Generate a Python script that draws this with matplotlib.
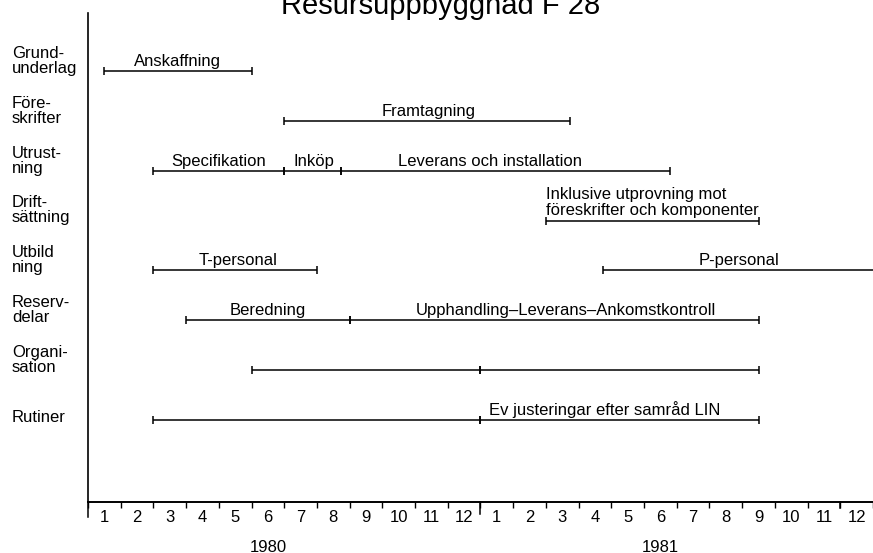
import matplotlib.pyplot as plt
from matplotlib.transforms import blended_transform_factory

plt.rcParams["font.family"] = ["Liberation Sans", "DejaVu Sans"]

TITLE = "Resursuppbyggnad F 28"

row_labels = [
    "Grund-\nunderlag",
    "Före-\nskrifter",
    "Utrust-\nning",
    "Drift-\nsättning",
    "Utbild\nning",
    "Reserv-\ndelar",
    "Organi-\nsation",
    "Rutiner",
]

# one entry per bar segment; months counted from start of jan 1980
seg_row = [0, 1, 2, 2, 2, 3, 4, 4, 5, 5, 6, 6, 7, 7]
seg_start = [0.5, 6.0, 2.0, 6.0, 7.75, 14.0, 2.0, 15.75, 3.0, 8.0, 5.0, 12.0, 2.0, 12.0]
seg_end = [5.0, 14.75, 6.0, 7.75, 17.8, 20.5, 7.0, 24.5, 8.0, 20.5, 12.0, 20.5, 12.0, 20.5]
seg_text = [
    "Anskaffning",
    "Framtagning",
    "Specifikation",
    "Inköp",
    "Leverans och installation",
    "Inklusive utprovning mot\nföreskrifter och komponenter",
    "T-personal",
    "P-personal",
    "Beredning",
    "Upphandling\u2013Leverans\u2013Ankomstkontroll",
    "",
    "",
    "",
    "Ev justeringar efter samråd LIN",
]
text_x = [2.75, 10.4, 4.0, 6.9, 12.3, 14.0, 4.6, 19.9, 5.5, 14.6, 0, 0, 0, 15.8]
text_ha = ["center"] * 5 + ["left"] + ["center"] * 8

month_labels = [str(m) for m in range(1, 13)] * 2
years = ["1980", "1981"]
year_ticks = [0, 12, 23]
year_tick_len = [15, 12, 6]

W, H = 873, 553
MONTH_PX = 32.8

fig = plt.figure(figsize=(W / 100, H / 100), dpi=100)
ax = fig.add_axes([88 / W, 1 - 502 / H, (W - 88) / W, (502 - 13) / H])
ax.set_xlim(0, (W - 88) / MONTH_PX)
ax.set_ylim(8.644, -1.163)

for r, s, e, t, tx, ha in zip(seg_row, seg_start, seg_end, seg_text, text_x, text_ha):
    ax.plot([s, e], [r, r], color="black", lw=1.1, solid_capstyle="butt")
    ax.plot([s, e], [r, r], linestyle="none", marker="|", ms=5.5, mew=1.1, color="black")
    if t:
        ax.annotate(t, (tx, r), xytext=(0, 1.5), textcoords="offset points",
                    ha=ha, va="bottom", fontsize=12, linespacing=1.1)

# row names at the far left
trans = blended_transform_factory(fig.transFigure, ax.transData)
for i, lab in enumerate(row_labels):
    ax.annotate(lab, (12 / W, i), xycoords=trans, xytext=(0, -3.5),
                textcoords="offset points", ha="left", va="bottom",
                fontsize=12, linespacing=1.0)

# axes styling
for side in ["top", "right"]:
    ax.spines[side].set_visible(False)
ax.spines["left"].set_linewidth(1.2)
ax.spines["bottom"].set_linewidth(1.4)
ax.set_yticks([])

ax.set_xticks(range(0, 25))
ax.set_xticklabels([])
ax.tick_params(axis="x", which="major", length=4, width=1, direction="out")
ax.set_xticks([m + 0.5 for m in range(24)], minor=True)
ax.set_xticklabels(month_labels, minor=True, fontsize=12)
ax.tick_params(axis="x", which="minor", length=0, pad=6)

xt = ax.get_xaxis_transform()
for m, L in zip(year_ticks, year_tick_len):
    ax.plot([m, m], [0, -L / (502 - 13)], transform=xt, clip_on=False,
            color="black", lw=1.1)

for i, y in enumerate(years):
    ax.annotate(y, (12 * i + 5.5, 0), xycoords=xt, xytext=(0, -32.4),
                textcoords="offset points", ha="center", va="center", fontsize=12)

fig.text(441 / W, 1 - 14 / H, TITLE, ha="center", va="baseline", fontsize=21)

fig.savefig("out.png", dpi=100)
